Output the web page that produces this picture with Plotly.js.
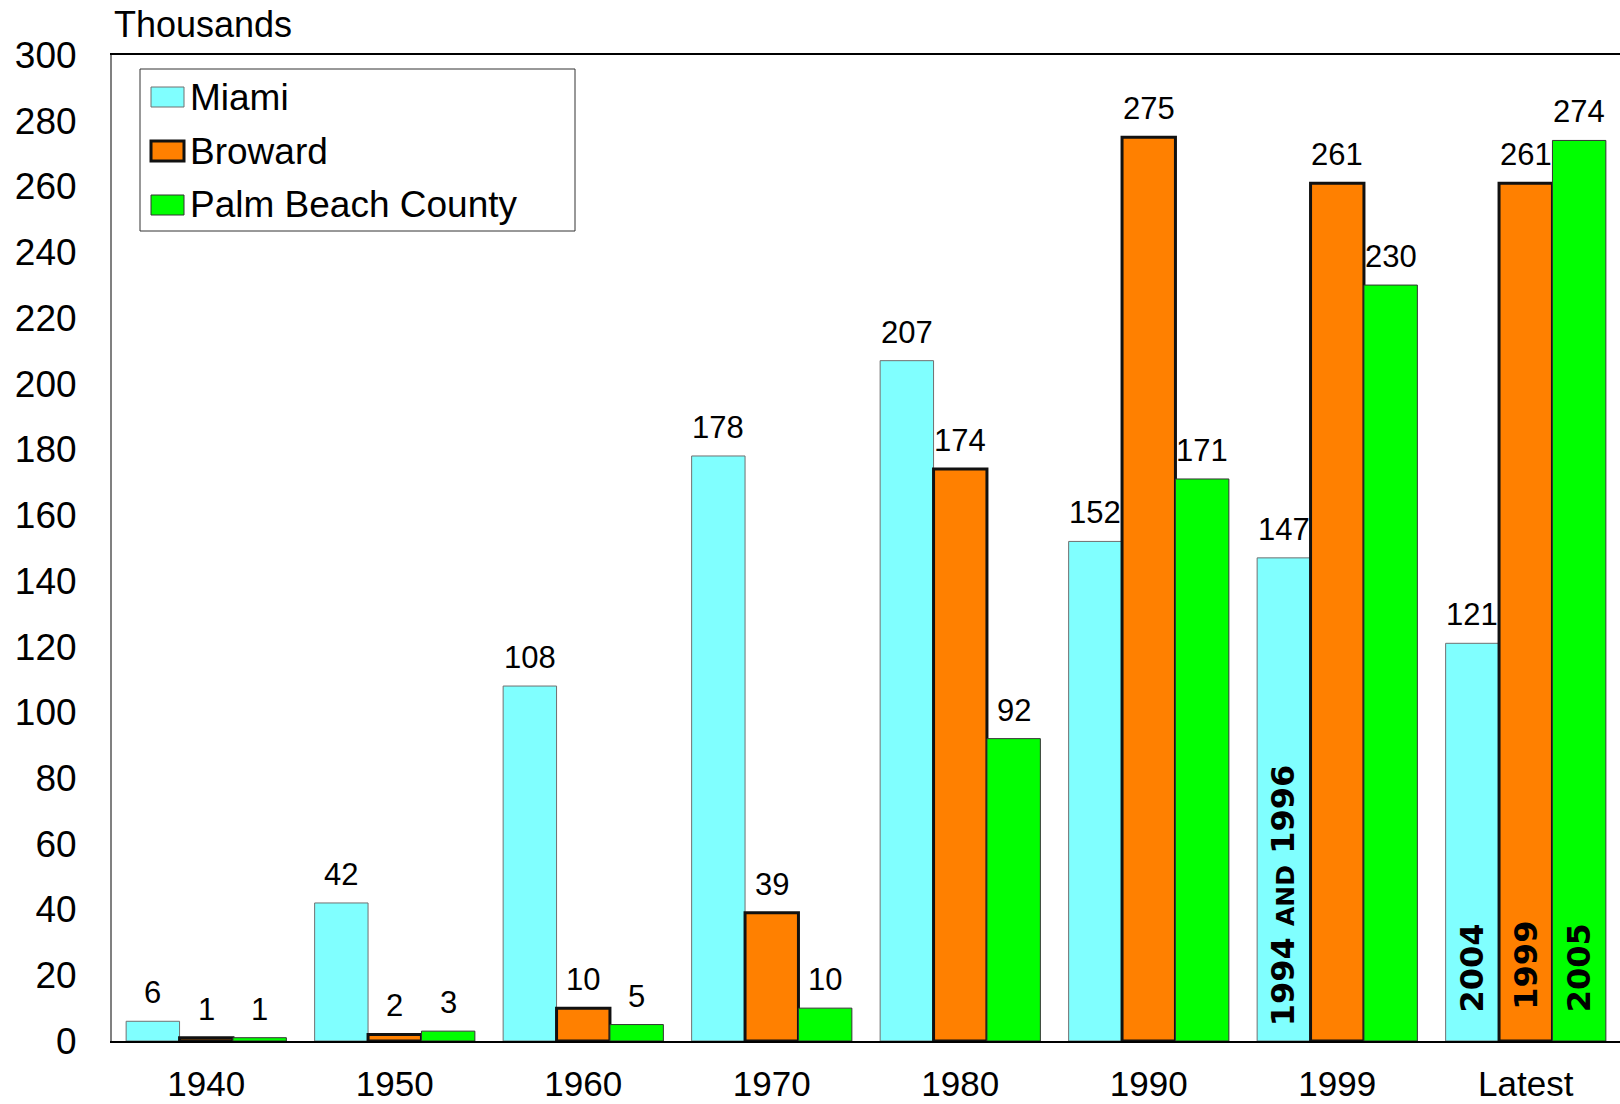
<!DOCTYPE html>
<html>
<head>
<meta charset="utf-8">
<script src="https://cdn.plot.ly/plotly-3.0.1.min.js"></script>
<style>
  html, body { margin: 0; padding: 0; background: #fff; }
  #chart { width: 1620px; height: 1104px; }
</style>
</head>
<body>
<div id="chart"></div>
<script>
const categories = ['1940', '1950', '1960', '1970', '1980', '1990', '1999', 'Latest'];
const miami = [6, 42, 108, 178, 207, 152, 147, 121];
const broward = [1, 2, 10, 39, 174, 275, 261, 261];
const palmBeach = [1, 3, 5, 10, 92, 171, 230, 274];

// year notes written inside the bars
const notes = [
	{series: 0, cat: '1999', text: '1994 <span style="font-size:25px">AND</span> 1996', y: 4},
	{series: 0, cat: 'Latest', text: '2004', y: 8},
	{series: 1, cat: 'Latest', text: '1999', y: 9},
	{series: 2, cat: 'Latest', text: '2005', y: 8}
];

const W = 1620, H = 1104;
const margin = {l: 112, r: 0, t: 55, b: 63};
const plotW = W - margin.l - margin.r;
const plotH = H - margin.t - margin.b;
const bargap = 0.15;
const slot = plotW / categories.length;
const barW = slot * (1 - bargap) / 3;

// pixel -> paper helpers for the hand drawn legend
const px = x => (x - margin.l) / plotW;
const py = y => (H - margin.b - y) / plotH;

const series = [
	{name: 'Miami', y: miami, color: '#80FFFF', line: {color: '#707070', width: 1}},
	{name: 'Broward', y: broward, color: '#FF8000', line: {color: '#111', width: 3}},
	{name: 'Palm Beach County', y: palmBeach, color: '#00FF00', line: {color: '#333', width: 1}}
];

const data = series.map(s => ({
	type: 'bar',
	name: s.name,
	x: categories,
	y: s.y,
	marker: {color: s.color, line: s.line},
	hoverinfo: 'skip'
}));

// category axes take annotation x as an index, so use positions not names
const annotations = [];
series.forEach((s, i) => {
	s.y.forEach((v, j) => {
		annotations.push({
			x: j, y: v, xref: 'x', yref: 'y',
			text: String(v), showarrow: false,
			xanchor: 'center', yanchor: 'bottom',
			xshift: (i - 1) * barW, yshift: 9,
			font: {family: 'Liberation Sans, Arial, sans-serif', size: 31, color: '#000'}
		});
	});
});

notes.forEach(n => {
	annotations.push({
		x: categories.indexOf(n.cat), y: n.y, xref: 'x', yref: 'y',
		text: n.text, showarrow: false, textangle: -90,
		xanchor: 'center', yanchor: 'bottom',
		xshift: (n.series - 1) * barW,
		font: {family: 'DejaVu Sans, sans-serif', size: 32, color: '#000', weight: 'bold'}
	});
});

annotations.push({
	x: 0, y: 1, xref: 'paper', yref: 'paper',
	xanchor: 'left', yanchor: 'bottom', yshift: 8,
	text: 'Thousands', showarrow: false,
	font: {family: 'Liberation Sans, Arial, sans-serif', size: 36, color: '#000'}
});

// legend: box, swatches and names
const shapes = [{
	type: 'rect', xref: 'paper', yref: 'paper',
	x0: px(140), x1: px(575), y0: py(69), y1: py(231),
	fillcolor: '#fff', line: {color: '#333', width: 1}
}];
const rowY = [97, 151, 205];
series.forEach((s, i) => {
	shapes.push({
		type: 'rect', xref: 'paper', yref: 'paper',
		x0: px(151), x1: px(184), y0: py(rowY[i] + 10), y1: py(rowY[i] - 10),
		fillcolor: s.color, line: {color: s.line.color, width: i === 1 ? 3 : 1}
	});
	annotations.push({
		x: px(188), y: py(rowY[i]), xref: 'paper', yref: 'paper',
		xanchor: 'left', yanchor: 'middle',
		text: s.name, showarrow: false,
		font: {family: 'Liberation Sans, Arial, sans-serif', size: 37, color: '#000'}
	});
});

const layout = {
	width: W, height: H,
	margin: margin,
	paper_bgcolor: '#fff',
	plot_bgcolor: '#fff',
	barmode: 'group',
	bargap: bargap,
	bargroupgap: 0,
	font: {family: 'Liberation Sans, Arial, sans-serif', color: '#000'},
	showlegend: false,
	xaxis: {
		type: 'category',
		range: [-0.5, categories.length - 0.5],
		showline: true, linecolor: '#000', linewidth: 2,
		mirror: true,
		ticks: '', showgrid: false,
		tickfont: {size: 35, color: '#000'},
		ticklabelstandoff: 11
	},
	yaxis: {
		range: [0, 300], dtick: 20,
		showline: true, linecolor: '#808080', linewidth: 2,
		ticks: '', showgrid: false, zeroline: false,
		tickfont: {size: 37, color: '#000'},
		ticklabelstandoff: 26
	},
	shapes: shapes,
	annotations: annotations
};

Plotly.newPlot('chart', data, layout, {staticPlot: true});
</script>
</body>
</html>
